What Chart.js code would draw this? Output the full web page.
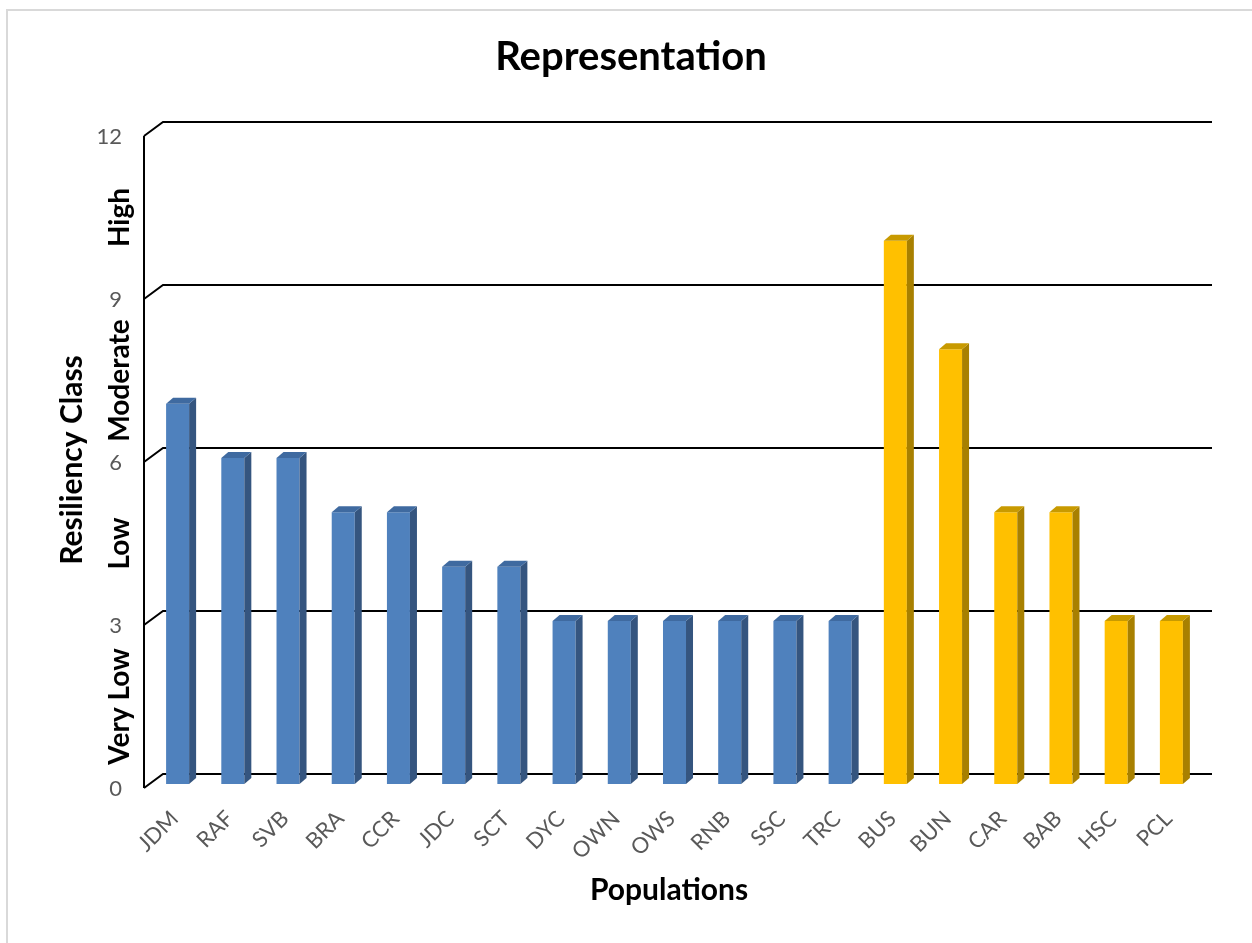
<!DOCTYPE html>
<html>
<head>
<meta charset="utf-8">
<title>Representation</title>
<script src="https://cdn.jsdelivr.net/npm/chart.js@4.4.1/dist/chart.umd.min.js"></script>
<style>
  html, body { margin: 0; padding: 0; background: #ffffff; }
  #wrap { position: relative; width: 1252px; height: 943px; }
</style>
</head>
<body>
<div id="wrap"><canvas id="chart" width="1252" height="943"></canvas></div>
<script>
// Populations along the category axis
const populations = ['JDM', 'RAF', 'SVB', 'BRA', 'CCR', 'JDC', 'SCT', 'DYC', 'OWN', 'OWS',
                     'RNB', 'SSC', 'TRC', 'BUS', 'BUN', 'CAR', 'BAB', 'HSC', 'PCL'];
// Representation scores, first group (blue)
const groupOne = [7, 6, 6, 5, 5, 4, 4, 3, 3, 3, 3, 3, 3, null, null, null, null, null, null];
// Representation scores, second group (gold)
const groupTwo = [null, null, null, null, null, null, null, null, null, null, null, null, null, 10, 8, 5, 5, 3, 3];
// Numeric ticks on the value axis
const valueTicks = [0, 3, 6, 9, 12];
// Resiliency classes, one per band between ticks
const classNames = ['Very Low', 'Low', 'Moderate', 'High'];

const FONT = 'Lato, "Open Sans", "DejaVu Sans", sans-serif';
const DEPTH_X = 7, DEPTH_Y = 6;           // bar depth
const FRONT = { dx: -6, dy: 4 };          // floor front edge relative to bar plane
const BACK = { dx: 13, dy: -10 };         // back wall relative to bar plane

const faceShades = {
  '#4F81BD': { top: '#3F6AA0', side: '#35557F' },
  '#FFC000': { top: '#C89A00', side: '#A88000' }
};

// Back wall gridlines and the left wall, drawn behind the bars
const wallPlugin = {
  id: 'walls',
  beforeDatasetsDraw(chart) {
    const { ctx, chartArea, scales } = chart;
    const y = scales.y;
    const fx = chartArea.left + FRONT.dx;
    const bx = chartArea.left + BACK.dx;
    const bRight = chartArea.right + BACK.dx;
    ctx.save();
    ctx.strokeStyle = '#000000';
    ctx.lineWidth = 2;
    ctx.lineJoin = 'miter';
    valueTicks.forEach(v => {
      const py = y.getPixelForValue(v);
      ctx.beginPath();
      ctx.moveTo(fx, py + FRONT.dy);
      ctx.lineTo(bx, py + BACK.dy);
      ctx.lineTo(bRight, py + BACK.dy);
      ctx.stroke();
    });
    // front vertical edge of the side wall
    ctx.beginPath();
    ctx.moveTo(fx, y.getPixelForValue(valueTicks[0]) + FRONT.dy);
    ctx.lineTo(fx, y.getPixelForValue(valueTicks[valueTicks.length - 1]) + FRONT.dy);
    ctx.stroke();
    ctx.restore();
  }
};

// Top and side faces that give each column its depth
const depthPlugin = {
  id: 'depth',
  afterDatasetsDraw(chart) {
    const { ctx } = chart;
    ctx.save();
    chart.data.datasets.forEach((ds, di) => {
      const meta = chart.getDatasetMeta(di);
      meta.data.forEach((bar, i) => {
        if (ds.data[i] === null || ds.data[i] === undefined) return;
        const { x, y, base, width } = bar.getProps(['x', 'y', 'base', 'width'], true);
        const l = x - width / 2, r = x + width / 2;
        const shade = faceShades[ds.backgroundColor];
        ctx.fillStyle = shade.side;
        ctx.beginPath();
        ctx.moveTo(r, y);
        ctx.lineTo(r + DEPTH_X, y - DEPTH_Y);
        ctx.lineTo(r + DEPTH_X, base - DEPTH_Y);
        ctx.lineTo(r, base);
        ctx.closePath();
        ctx.fill();
        ctx.fillStyle = shade.top;
        ctx.beginPath();
        ctx.moveTo(l, y);
        ctx.lineTo(l + DEPTH_X, y - DEPTH_Y);
        ctx.lineTo(r + DEPTH_X, y - DEPTH_Y);
        ctx.lineTo(r, y);
        ctx.closePath();
        ctx.fill();
      });
    });
    ctx.restore();
  }
};

// Titles, tick labels, class labels, category labels and the outer frame
const labelPlugin = {
  id: 'labels',
  afterDraw(chart) {
    const { ctx, scales } = chart;
    const y = scales.y, x = scales.x;
    ctx.save();

    // outer frame
    ctx.strokeStyle = '#D9D9D9';
    ctx.lineWidth = 2;
    ctx.beginPath();
    ctx.moveTo(7, 960);
    ctx.lineTo(7, 10);
    ctx.lineTo(1270, 10);
    ctx.stroke();

    // chart title
    ctx.fillStyle = '#000000';
    ctx.font = 'bold 40px ' + FONT;
    ctx.textAlign = 'center';
    ctx.textBaseline = 'middle';
    ctx.fillText('Representation', 631, 57);

    // value tick labels along the front edge
    ctx.fillStyle = '#595959';
    ctx.font = '22px ' + FONT;
    ctx.textAlign = 'right';
    ctx.textBaseline = 'middle';
    valueTicks.forEach(v => {
      ctx.fillText(String(v), 122, y.getPixelForValue(v) + FRONT.dy + 1);
    });

    // resiliency class labels, centred in their bands
    ctx.fillStyle = '#000000';
    ctx.font = 'bold 28px ' + FONT;
    ctx.textAlign = 'center';
    ctx.textBaseline = 'middle';
    classNames.forEach((name, i) => {
      const mid = (valueTicks[i] + valueTicks[i + 1]) / 2;
      const py = y.getPixelForValue(mid) + FRONT.dy;
      ctx.save();
      ctx.translate(120, py);
      ctx.rotate(-Math.PI / 2);
      ctx.fillText(name, 0, 0);
      ctx.restore();
    });

    // value axis title
    ctx.font = 'bold 30px ' + FONT;
    ctx.save();
    ctx.translate(72, 460);
    ctx.rotate(-Math.PI / 2);
    ctx.fillText('Resiliency Class', 0, 0);
    ctx.restore();

    // category labels, slanted
    ctx.fillStyle = '#595959';
    ctx.font = '22px ' + FONT;
    ctx.textAlign = 'right';
    ctx.textBaseline = 'middle';
    populations.forEach((name, i) => {
      const px = x.getPixelForValue(i);
      ctx.save();
      ctx.translate(px - 3, 815);
      ctx.rotate(-Math.PI / 4);
      ctx.fillText(name, 0, 0);
      ctx.restore();
    });

    // category axis title
    ctx.fillStyle = '#000000';
    ctx.font = 'bold 30px ' + FONT;
    ctx.textAlign = 'center';
    ctx.fillText('Populations', 669, 890);

    ctx.restore();
  }
};

new Chart(document.getElementById('chart'), {
  type: 'bar',
  data: {
    labels: populations,
    datasets: [
      { data: groupOne, backgroundColor: '#4F81BD', borderWidth: 0 },
      { data: groupTwo, backgroundColor: '#FFC000', borderWidth: 0 }
    ]
  },
  options: {
    responsive: false,
    animation: false,
    devicePixelRatio: 1,
    layout: { padding: { left: 150, right: 53, top: 132, bottom: 159 } },
    datasets: { bar: { grouped: false, categoryPercentage: 1, barPercentage: 0.417 } },
    plugins: { legend: { display: false }, tooltip: { enabled: false }, title: { display: false } },
    scales: {
      x: { display: false },
      y: { display: false, min: 0, max: 12 }
    }
  },
  plugins: [wallPlugin, depthPlugin, labelPlugin]
});
</script>
</body>
</html>
